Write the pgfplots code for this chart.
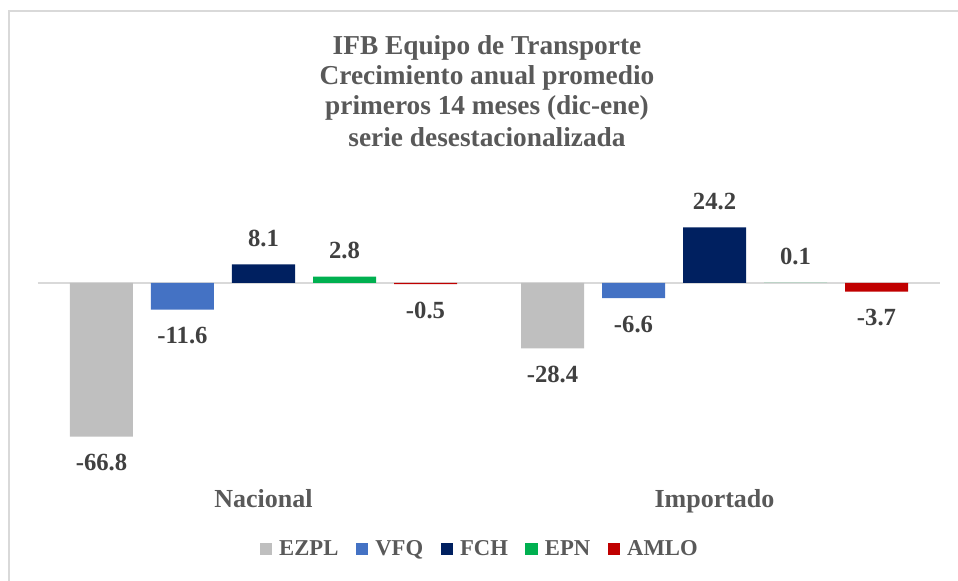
\documentclass[border=0pt]{standalone}
\usepackage{pgfplots}
\pgfplotsset{compat=1.18}
\usepackage{fontspec}
\setmainfont{Liberation Serif}
\definecolor{cEZPL}{HTML}{BFBFBF}
\definecolor{cVFQ}{HTML}{4472C4}
\definecolor{cFCH}{HTML}{002060}
\definecolor{cEPN}{HTML}{00B050}
\definecolor{cAMLO}{HTML}{C00000}
\definecolor{ttl}{HTML}{595959}
\definecolor{lbl}{HTML}{404040}
\definecolor{grd}{HTML}{D9D9D9}
\pgfplotsset{
  /pgfplots/ybar legend/.style={/pgfplots/legend image code/.code={\fill[##1,draw=none] (0pt,-4.6pt) rectangle (9.2pt,4.6pt);}},
}
\begin{document}
\begin{tikzpicture}[x=0.75pt,y=0.75pt]
\path[use as bounding box] (0,0) rectangle (958,581);
\draw[grd,line width=1.5pt] (9,0) -- (9,570) -- (958,570);
\begin{scope}[every node/.style={font=\bfseries\fontsize{20.5}{24}\selectfont, text=ttl}]
\node[anchor=base] at (487,526) {IFB Equipo de Transporte};
\node[anchor=base] at (487,496) {Crecimiento anual promedio};
\node[anchor=base] at (487,466) {primeros 14 meses (dic-ene)};
\node[anchor=base] at (487,434) {serie desestacionalizada};
\end{scope}
\begin{axis}[
  at={(38pt*0.75,114pt*0.75)}, anchor=south west,
  scale only axis, width=676.5pt, height=189.75pt,
  xmin=-0.5, xmax=1.5, ymin=-80, ymax=30,
  ybar, bar width=47.25pt,
  axis line style={draw=none}, tick style={draw=none},
  ytick=\empty,
  xtick={0,1}, xticklabels={Nacional,Importado},
  xticklabel style={anchor=base, yshift=-25.9pt, font=\bfseries\fontsize{19.5}{22}\selectfont, text=ttl},
  extra y ticks={0}, extra y tick labels={},
  extra y tick style={grid=major, major grid style={color=grd, line width=1.1pt}},
  /pgf/number format/assume math mode=true,
  nodes near coords={\pgfmathprintnumber[fixed,fixed zerofill,precision=1]{\pgfplotspointmeta}},
  every node near coord/.append style={font=\bfseries\fontsize{18.5}{21}\selectfont, text=lbl, inner ysep=13pt},
  legend columns=5,
  legend style={at={(0.49,-0.324)}, anchor=center, draw=none, fill=none,
    font=\bfseries\fontsize{17}{20}\selectfont, text=ttl,
    /tikz/every odd column/.append style={column sep=3.5pt},
    /tikz/every even column/.append style={column sep=11pt}},
  clip=false,
]
\addplot[fill=cEZPL, draw=none, bar shift=-121.5pt] coordinates {(0,-66.8) (1,-28.4)};
\addplot[fill=cVFQ, draw=none, bar shift=-60.75pt] coordinates {(0,-11.6) (1,-6.6)};
\addplot[fill=cFCH, draw=none, bar shift=0pt] coordinates {(0,8.1) (1,24.2)};
\addplot[fill=cEPN, draw=none, bar shift=60.75pt] coordinates {(0,2.8) (1,0.1)};
\addplot[fill=cAMLO, draw=none, bar shift=121.5pt] coordinates {(0,-0.5) (1,-3.7)};
\legend{EZPL,VFQ,FCH,EPN,AMLO}
\end{axis}
\end{tikzpicture}
\end{document}
